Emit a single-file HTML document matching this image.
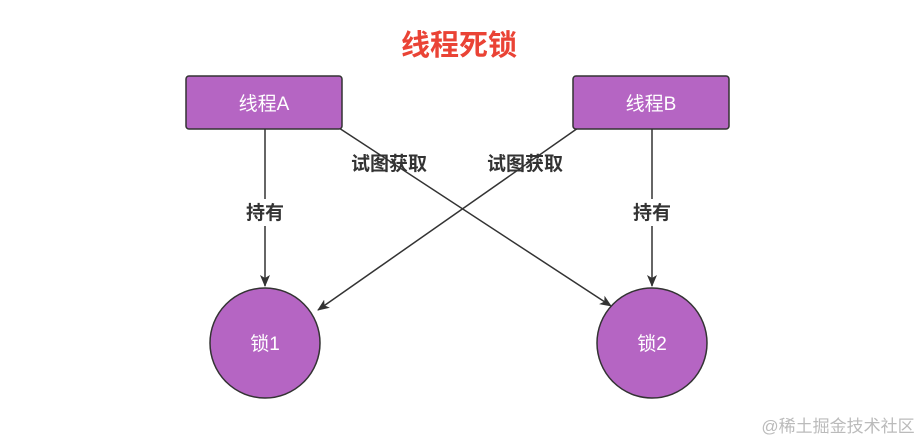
<!DOCTYPE html>
<html><head><meta charset="utf-8"><style>
body{margin:0;background:#fff;}
text{font-family:"Liberation Sans","Noto Sans CJK SC",sans-serif;}
</style></head><body>
<svg width="923" height="443" viewBox="0 0 923 443" xmlns="http://www.w3.org/2000/svg">
<defs><marker id="ar" markerWidth="12" markerHeight="12" refX="11" refY="6" orient="auto" markerUnits="userSpaceOnUse"><path d="M0,1 L12,6 L0,11 L3,6 Z" fill="#333"/></marker></defs>
<text x="459" y="55" text-anchor="middle" font-size="29" font-weight="bold" fill="#ea4335">线程死锁</text>
<line x1="265" y1="129" x2="265" y2="286" stroke="#333" stroke-width="1.5" marker-end="url(#ar)"/>
<line x1="652" y1="129" x2="652" y2="286" stroke="#333" stroke-width="1.5" marker-end="url(#ar)"/>
<line x1="339" y1="128" x2="611" y2="306" stroke="#333" stroke-width="1.5" marker-end="url(#ar)"/>
<line x1="578" y1="128" x2="318" y2="310" stroke="#333" stroke-width="1.5" marker-end="url(#ar)"/>
<rect x="186" y="76" width="156" height="53" rx="3" fill="#b565c3" stroke="#333" stroke-width="1.5"/>
<rect x="573" y="76" width="156" height="53" rx="3" fill="#b565c3" stroke="#333" stroke-width="1.5"/>
<text x="264" y="110" text-anchor="middle" font-size="19" fill="#fff">线程A</text>
<text x="651" y="110" text-anchor="middle" font-size="19" fill="#fff">线程B</text>
<circle cx="265" cy="343" r="55" fill="#b565c3" stroke="#333" stroke-width="1.5"/>
<circle cx="652" cy="343" r="55" fill="#b565c3" stroke="#333" stroke-width="1.5"/>
<text x="265" y="350" text-anchor="middle" font-size="19" fill="#fff">锁1</text>
<text x="652" y="350" text-anchor="middle" font-size="19" fill="#fff">锁2</text>
<rect x="243" y="199" width="44" height="27" fill="#fff"/>
<text x="265" y="219" text-anchor="middle" font-size="19" font-weight="bold" fill="#333">持有</text>
<rect x="630" y="199" width="44" height="27" fill="#fff"/>
<text x="652" y="219" text-anchor="middle" font-size="19" font-weight="bold" fill="#333">持有</text>
<text x="389" y="170" text-anchor="middle" font-size="19" font-weight="bold" fill="#333">试图获取</text>
<text x="525" y="170" text-anchor="middle" font-size="19" font-weight="bold" fill="#333">试图获取</text>
<text x="838" y="432" text-anchor="middle" font-size="17" fill="#bbb">@稀土掘金技术社区</text>
</svg>
</body></html>
